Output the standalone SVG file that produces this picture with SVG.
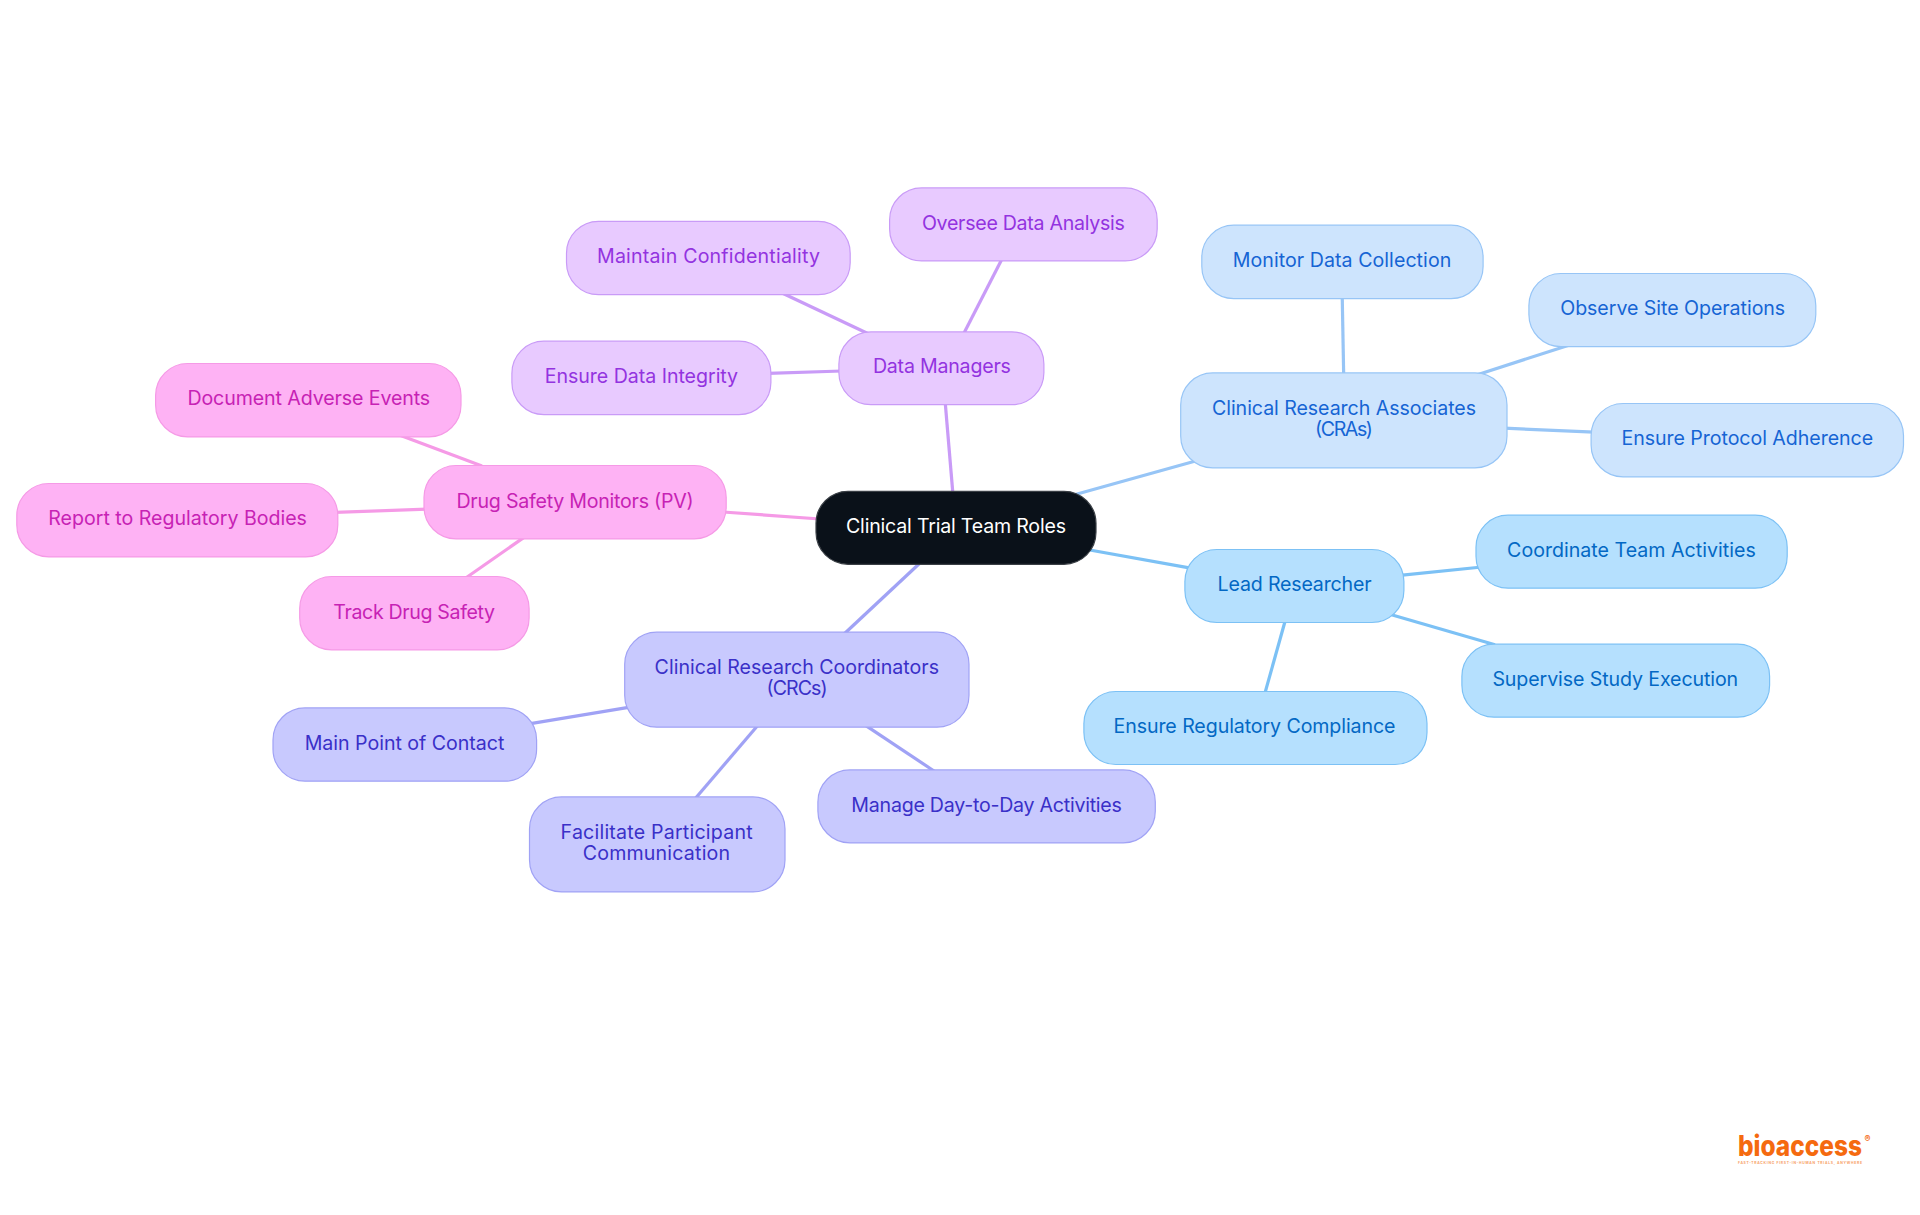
<svg xmlns="http://www.w3.org/2000/svg" width="1920" height="1215" viewBox="0 0 1920 1215">
<style>
text{font-family:"Inter","Liberation Sans",sans-serif;font-size:19.6px;font-weight:400;text-anchor:middle}
rect.n{stroke-width:1.2}
.c{fill:none;stroke-width:3.2;stroke-linecap:butt}
.pu rect{fill:#e8caff;stroke:#c99bf7}.pu text{fill:#9333e0}.cpu{stroke:#c99bf7}
.bl rect{fill:#cde4fd;stroke:#97c5f6}.bl text{fill:#1664d4}.cbl{stroke:#97c5f6}
.sk rect{fill:#b5e0fe;stroke:#7cc1f5}.sk text{fill:#0368c4}.csk{stroke:#7cc1f5}
.in rect{fill:#c8c9fe;stroke:#a0a2f5}.in text{fill:#3a30c8}.cin{stroke:#a0a2f5}
.pk rect{fill:#feb2f4;stroke:#f59ae6}.pk text{fill:#c722b4}.cpk{stroke:#f59ae6}
.rt rect{fill:#0a1119;stroke:#3a3f45}.rt text{fill:#fff}
</style>
<rect width="1920" height="1215" fill="#fff"/>
<g id="connectors">
<path class="c cpu" d="M945 400L953 495"/>
<path class="c cpu" d="M1002.5 258L963 335"/>
<path class="c cpu" d="M781 292.5L871 335"/>
<path class="c cpu" d="M768 373.4L842 371"/>
<path class="c cbl" d="M1070 496L1200 459.8"/>
<path class="c cbl" d="M1342.2 295L1343.7 376"/>
<path class="c cbl" d="M1568 345.5L1475 375.5"/>
<path class="c cbl" d="M1504 428.2L1594 432.2"/>
<path class="c csk" d="M1080 548.2L1192 568.4"/>
<path class="c csk" d="M1400 575.4L1482 567"/>
<path class="c csk" d="M1388 613.8L1495 644.8"/>
<path class="c csk" d="M1285.7 619L1264.4 695"/>
<path class="c cin" d="M920 563L843 635"/>
<path class="c cin" d="M630 707.2L529 723.8"/>
<path class="c cin" d="M759 724L694 800"/>
<path class="c cin" d="M864 724.3L937 773"/>
<path class="c cpk" d="M723 512L820 519"/>
<path class="c cpk" d="M400 435.2L482 466"/>
<path class="c cpk" d="M335 512.4L427 509.2"/>
<path class="c cpk" d="M524 537.4L465 578.5"/>
</g>
<g id="root" class="rt"><rect class="n" x="816" y="491.3" width="280" height="73" rx="32"/><text x="956" y="533.3" textLength="220">Clinical Trial Team Roles</text></g>
<g id="data-managers" class="pu"><rect class="n" x="838.9" y="331.9" width="205" height="72.8" rx="32"/><text x="941.9" y="372.7" textLength="138">Data Managers</text></g>
<g id="oversee" class="pu"><rect class="n" x="889.6" y="187.9" width="267.6" height="73" rx="32"/><text x="1023.4" y="229.7" textLength="203">Oversee Data Analysis</text></g>
<g id="maintain" class="pu"><rect class="n" x="566.5" y="221.3" width="283.7" height="73.4" rx="32"/><text x="708.5" y="262.7" textLength="223">Maintain Confidentiality</text></g>
<g id="integrity" class="pu"><rect class="n" x="511.9" y="341.2" width="259" height="73.4" rx="32"/><text x="641.4" y="382.7" textLength="193.4">Ensure Data Integrity</text></g>
<g id="cras" class="bl"><rect class="n" x="1180.7" y="372.9" width="326.3" height="95" rx="32"/><text x="1344" y="415" textLength="264">Clinical Research Associates</text><text x="1344" y="435.7" textLength="58">(CRAs)</text></g>
<g id="monitor" class="bl"><rect class="n" x="1201.8" y="225.2" width="281.3" height="73.4" rx="32"/><text x="1342" y="267.3" textLength="218.5">Monitor Data Collection</text></g>
<g id="observe" class="bl"><rect class="n" x="1528.9" y="273.5" width="286.9" height="73.1" rx="32"/><text x="1672.7" y="315.3" textLength="225">Observe Site Operations</text></g>
<g id="protocol" class="bl"><rect class="n" x="1591.1" y="403.5" width="312.4" height="73.4" rx="32"/><text x="1747.3" y="445.3" textLength="251.6">Ensure Protocol Adherence</text></g>
<g id="lead" class="sk"><rect class="n" x="1184.9" y="549.5" width="219" height="73" rx="32"/><text x="1294.6" y="591" textLength="154">Lead Researcher</text></g>
<g id="coordinate" class="sk"><rect class="n" x="1476" y="515.2" width="311.2" height="73" rx="32"/><text x="1631.4" y="557.3" textLength="248.7">Coordinate Team Activities</text></g>
<g id="supervise" class="sk"><rect class="n" x="1461.9" y="644.2" width="307.7" height="73" rx="32"/><text x="1615.3" y="686" textLength="245.8">Supervise Study Execution</text></g>
<g id="compliance" class="sk"><rect class="n" x="1083.9" y="691.5" width="343.1" height="73" rx="32"/><text x="1254.5" y="733.3" textLength="282">Ensure Regulatory Compliance</text></g>
<g id="crcs" class="in"><rect class="n" x="624.7" y="632.2" width="344.3" height="95" rx="32"/><text x="796.8" y="674" textLength="284.4">Clinical Research Coordinators</text><text x="797.1" y="695.4" textLength="61">(CRCs)</text></g>
<g id="contact" class="in"><rect class="n" x="273" y="707.9" width="263.6" height="73.3" rx="32"/><text x="404.5" y="750" textLength="199.6">Main Point of Contact</text></g>
<g id="facilitate" class="in"><rect class="n" x="529.5" y="796.9" width="255.5" height="95" rx="32"/><text x="656.6" y="839" textLength="192">Facilitate Participant</text><text x="656.4" y="860" textLength="147.4">Communication</text></g>
<g id="manage" class="in"><rect class="n" x="817.9" y="769.9" width="337.4" height="73" rx="32"/><text x="986.6" y="811.7" textLength="270.5">Manage Day-to-Day Activities</text></g>
<g id="drug-safety" class="pk"><rect class="n" x="424" y="465.5" width="302.2" height="73.4" rx="32"/><text x="575.1" y="507.7" textLength="237.3">Drug Safety Monitors (PV)</text></g>
<g id="document" class="pk"><rect class="n" x="155.6" y="363.5" width="305.4" height="73.4" rx="32"/><text x="308.8" y="404.7" textLength="242.7">Document Adverse Events</text></g>
<g id="report" class="pk"><rect class="n" x="16.8" y="483.5" width="321" height="73.4" rx="32"/><text x="177.6" y="525" textLength="258.7">Report to Regulatory Bodies</text></g>
<g id="track" class="pk"><rect class="n" x="299.7" y="576.5" width="229.4" height="73.4" rx="32"/><text x="414.1" y="619" textLength="161.8">Track Drug Safety</text></g>
<g id="logo">
<text x="1800" y="1155.5" textLength="124" lengthAdjust="spacingAndGlyphs" style="font-size:28px;font-weight:800;fill:#f56a0f">bioaccess</text>
<text x="1867.5" y="1142" style="font-size:9px;font-weight:700;fill:#f56a0f">®</text>
<text x="1800" y="1164" textLength="124" lengthAdjust="spacing" style="font-size:3.4px;font-weight:700;fill:#f7a066">FAST-TRACKING FIRST-IN-HUMAN TRIALS, ANYWHERE</text>
</g>
</svg>
